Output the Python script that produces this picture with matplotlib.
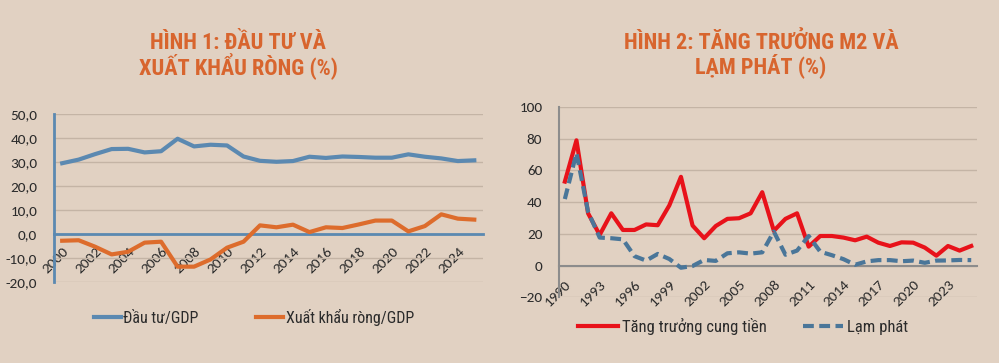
import matplotlib
matplotlib.use("Agg")
import matplotlib.pyplot as plt
from matplotlib.ticker import FuncFormatter

# hinh 1: dau tu va xuat khau rong
years1 = list(range(2000, 2026))
dau_tu = [29.5, 31.0, 33.3, 35.4, 35.5, 34.0, 34.5, 39.7, 36.5, 37.2, 36.9, 32.3, 30.5,
          30.1, 30.4, 32.2, 31.7, 32.3, 32.1, 31.8, 31.8, 33.2, 32.2, 31.5, 30.4, 30.7]
xk_rong = [-2.8, -2.6, -5.3, -8.5, -7.4, -3.6, -3.2, -13.6, -13.6, -10.6, -5.7, -3.2, 3.6,
           2.8, 3.9, 0.8, 2.8, 2.5, 4.0, 5.6, 5.6, 1.1, 3.3, 8.2, 6.4, 6.0]

# hinh 2: tang truong M2 va lam phat
years2 = list(range(1990, 2026))
m2 = [53, 79, 33, 19.4, 33, 22.5, 22.5, 26, 25.5, 38, 56, 25.3, 17.3, 25, 29.5, 29.9,
      33, 46.3, 22, 29.5, 33, 12, 18.7, 18.7, 17.7, 16, 18.3, 14.5, 12.4, 14.7, 14.5,
      11.4, 6.3, 12.4, 9.5, 12.4]
lam_phat = [42, 71, 34, 17.7, 17.3, 16.6, 6, 3.2, 7.4, 4.2, -1.3, -0.2, 3.6, 3, 7.8, 8.4,
            7.6, 8.4, 21.5, 6.9, 9.5, 18.7, 8.8, 6.6, 4.1, 0.6, 2.7, 3.5, 3.5, 2.8, 3.2,
            1.8, 3.2, 3.3, 3.6, 3.5]

bg = "#e1d1c2"
grid_c = "#c4b4a5"
txt_c = "#2b2b2b"
title_c = "#d8652e"
narrow = ["Roboto Condensed", "Archivo Narrow", "DejaVu Sans"]
calibri = ["Carlito", "DejaVu Sans"]

fig = plt.figure(figsize=(9.99, 3.63), dpi=100, facecolor=bg)

# ---- left chart
ax1 = fig.add_axes([0.054, 0.2231, 0.429, 0.4628], facecolor=bg)
x1 = list(range(len(years1)))
ax1.plot(x1, dau_tu, color="#5b89b1", lw=3, solid_joinstyle="round", label="Đầu tư/GDP", zorder=3)
ax1.plot(x1, xk_rong, color="#dd6c2c", lw=3, solid_joinstyle="round", label="Xuất khẩu ròng/GDP", zorder=3)
ax1.set_xlim(-0.5, len(years1) - 0.5)
ax1.set_ylim(-20, 50)
ax1.set_yticks(range(-20, 51, 10))
ax1.yaxis.set_major_formatter(FuncFormatter(lambda v, p: f"{v:.1f}".replace(".", ",")))
ax1.set_xticks(x1[::2])
ax1.set_xticklabels([str(y) for y in years1[::2]])
ax1.grid(axis="y", color=grid_c, lw=1)
ax1.set_axisbelow(True)
for s in ["top", "right"]:
    ax1.spines[s].set_visible(False)
ax1.spines["left"].set_color("#5b89b1")
ax1.spines["left"].set_linewidth(2)
ax1.spines["bottom"].set_position(("data", 0))
ax1.spines["bottom"].set_color("#5b89b1")
ax1.spines["bottom"].set_linewidth(2)
ax1.spines["bottom"].set_zorder(2)
ax1.tick_params(axis="both", length=0, colors=txt_c, labelsize=11)
ax1.tick_params(axis="y", pad=12)
ax1.tick_params(axis="x", pad=8)
for lab in ax1.get_xticklabels() + ax1.get_yticklabels():
    lab.set_family(calibri)
for lab in ax1.get_xticklabels():
    lab.set_rotation(45)
    lab.set_ha("right")
    lab.set_va("top")
    lab.set_rotation_mode("anchor")

# ---- right chart
ax2 = fig.add_axes([0.5596, 0.1807, 0.4184, 0.5245], facecolor=bg)
x2 = list(range(len(years2)))
ax2.plot(x2, m2, color="#e8121a", lw=3, label="Tăng trưởng cung tiền", zorder=3)
ax2.plot(x2, lam_phat, color="#4a7699", lw=3, ls=(0, (2.6, 1.3)), label="Lạm phát", zorder=3)
ax2.set_xlim(-0.5, len(years2) - 0.5)
ax2.set_ylim(-20, 100)
ax2.set_yticks(range(-20, 101, 20))
ax2.set_xticks(x2[::3])
ax2.set_xticklabels([str(y) for y in years2[::3]])
ax2.grid(axis="y", color=grid_c, lw=1)
ax2.set_axisbelow(True)
for s in ["top", "right"]:
    ax2.spines[s].set_visible(False)
ax2.spines["left"].set_color("#8c8c8c")
ax2.spines["left"].set_linewidth(1.5)
ax2.spines["bottom"].set_position(("data", 0))
ax2.spines["bottom"].set_color("#8c8c8c")
ax2.spines["bottom"].set_linewidth(1.5)
ax2.tick_params(axis="both", length=0, colors=txt_c, labelsize=11)
ax2.tick_params(axis="y", pad=12)
ax2.tick_params(axis="x", pad=9)
for lab in ax2.get_xticklabels() + ax2.get_yticklabels():
    lab.set_family(calibri)
for lab in ax2.get_xticklabels():
    lab.set_rotation(45)
    lab.set_ha("right")
    lab.set_va("top")
    lab.set_rotation_mode("anchor")

# ---- titles
for cx, l1, l2 in [(238, "HÌNH 1: ĐẦU TƯ VÀ", "XUẤT KHẨU RÒNG (%)"),
                   (761, "HÌNH 2: TĂNG TRƯỞNG M2 VÀ", "LẠM PHÁT (%)")]:
    fig.text(cx / 999, 1 - 43 / 363, l1, ha="center", va="center", color=title_c,
             fontsize=16, fontweight="bold", family=narrow)
    fig.text(cx / 999, 1 - 66 / 363, l2, ha="center", va="center", color=title_c,
             fontsize=16, fontweight="bold", family=narrow)

# ---- legends
leg1 = ax1.legend(loc="center", bbox_to_anchor=(254 / 999, 1 - 317 / 363),
                  bbox_transform=fig.transFigure, ncol=2, frameon=False,
                  handlelength=1.7, handletextpad=0.15, columnspacing=3.6,
                  prop={"family": narrow, "size": 11.5})
for t in leg1.get_texts():
    t.set_color(txt_c)
leg2 = ax2.legend(loc="center", bbox_to_anchor=(743 / 999, 1 - 326 / 363),
                  bbox_transform=fig.transFigure, ncol=2, frameon=False,
                  handlelength=2.4, handletextpad=0.25, columnspacing=2.2,
                  prop={"family": narrow, "size": 12})
for t in leg2.get_texts():
    t.set_color(txt_c)

fig.savefig("out.png", dpi=100, facecolor=bg)
